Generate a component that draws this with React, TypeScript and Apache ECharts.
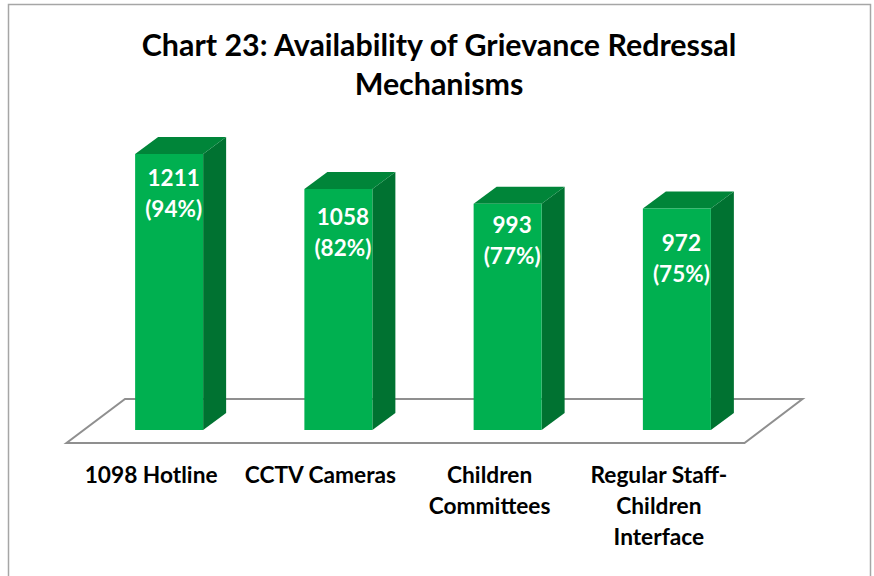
import React, { useEffect, useRef } from "react";
import * as echarts from "echarts";

const chartTitle = "Chart 23: Availability of Grievance Redressal\nMechanisms";
const categories = ["1098 Hotline", "CCTV Cameras", "Children\nCommittees", "Regular Staff-\nChildren\nInterface"];
const counts = [1211, 1058, 993, 972];
const percents = ["94%", "82%", "77%", "75%"];
// distance in px from the bar top to the middle of the label block
const labelDrop = [38.5, 43, 36.5, 49];

const FONT = "Lato, Carlito, Calibri, sans-serif";
const BAR_W = 68;
const DEPTH_X = 23;
const DEPTH_Y = 17;
const BAR_SHIFT = 18;

export default function App() {
  const ref = useRef<HTMLDivElement>(null);
  useEffect(() => {
    document.body.style.margin = "0";
    const chart = echarts.init(ref.current!, undefined, { renderer: "svg" });
    chart.setOption({
      animation: false,
      backgroundColor: "#ffffff",
      title: {
        text: chartTitle,
        left: 434,
        top: 19.5,
        textAlign: "center",
        textStyle: { fontFamily: FONT, fontSize: 30.4, fontWeight: "bold", color: "#000000", lineHeight: 39 },
      },
      grid: { left: 66.5, width: 677, top: 111, height: 319 },
      xAxis: {
        type: "category",
        data: categories,
        axisLine: { show: false },
        axisTick: { show: false },
        axisLabel: {
          interval: 0,
          margin: 29,
          fontFamily: FONT,
          fontSize: 22.7,
          fontWeight: "bold",
          color: "#000000",
          lineHeight: 31,
          verticalAlign: "top",
        },
      },
      yAxis: { type: "value", min: 0, max: 1400, show: false, splitLine: { show: false } },
      graphic: [
        {
          type: "polyline",
          shape: { points: [[8.5, 576], [8.5, 4.5], [870.5, 4.5], [870.5, 576]] },
          style: { stroke: "#a6a6a6", lineWidth: 1.5, fill: "none" },
          silent: true,
        },
      ],
      series: [
        {
          type: "custom",
          z: 1,
          silent: true,
          data: [0],
          renderItem: (params: any, api: any) => {
            const cs = params.coordSys;
            const y0 = cs.y + cs.height;
            return {
              type: "polygon",
              shape: {
                points: [
                  [cs.x, y0 + 13],
                  [cs.x + cs.width + 1, y0 + 13],
                  [cs.x + cs.width + 59, y0 - 31],
                  [cs.x + 58.5, y0 - 31],
                ],
              },
              style: { fill: "#ffffff", stroke: "#8f8f8f", lineWidth: 2 },
            };
          },
        },
        {
          type: "custom",
          z: 2,
          data: counts.map((v, i) => [i, v]),
          encode: { x: 0, y: 1 },
          renderItem: (params: any, api: any) => {
            const i = api.value(0);
            const top = api.coord([i, api.value(1)]);
            const base = api.coord([i, 0]);
            const l = top[0] + BAR_SHIFT - BAR_W / 2;
            const r = l + BAR_W;
            const t = top[1];
            const b = base[1];
            return {
              type: "group",
              children: [
                {
                  type: "polygon",
                  shape: { points: [[r, t], [r + DEPTH_X, t - DEPTH_Y], [r + DEPTH_X, b - DEPTH_Y], [r, b]] },
                  style: { fill: "#007231" },
                },
                {
                  type: "polygon",
                  shape: { points: [[l, t], [l + DEPTH_X, t - DEPTH_Y], [r + DEPTH_X, t - DEPTH_Y], [r, t]] },
                  style: { fill: "#008539" },
                },
                { type: "rect", shape: { x: l, y: t, width: BAR_W, height: b - t }, style: { fill: "#00b050" } },
                {
                  type: "text",
                  x: (l + r) / 2 + 4.5,
                  y: t + labelDrop[i],
                  style: {
                    text: `${counts[i]}\n(${percents[i]})`,
                    fill: "#ffffff",
                    font: `bold 22.5px ${FONT}`,
                    lineHeight: 31,
                    align: "center",
                    verticalAlign: "middle",
                  },
                },
              ],
            };
          },
        },
      ],
    });
    return () => chart.dispose();
  }, []);
  return <div ref={ref} style={{ width: 874, height: 576 }} />;
}
